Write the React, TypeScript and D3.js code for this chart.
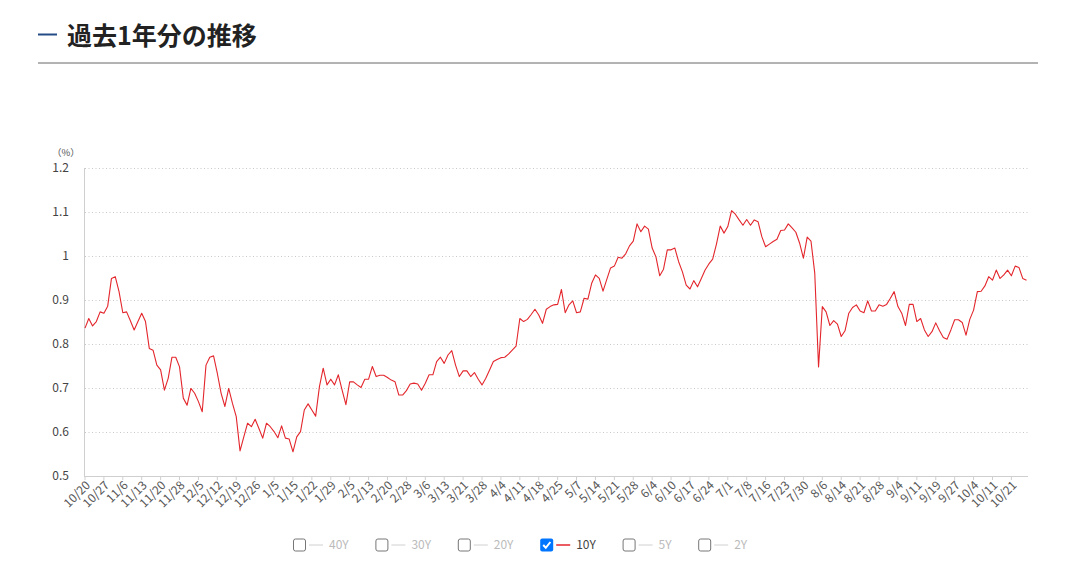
import React from "react";
import * as d3 from "d3";

// 10Y JGB yield (%), one value per trading day, 2023/10/20 → 2024/10/25
const values10Y: number[] = [
  0.836, 0.858, 0.841, 0.851, 0.873, 0.870, 0.886, 0.949, 0.953, 0.919,
  0.871, 0.873, 0.853, 0.832, 0.851, 0.870, 0.851, 0.790, 0.786, 0.752,
  0.741, 0.695, 0.722, 0.770, 0.770, 0.748, 0.677, 0.661, 0.699, 0.688,
  0.669, 0.646, 0.752, 0.770, 0.773, 0.733, 0.688, 0.658, 0.699, 0.665,
  0.635, 0.557, 0.589, 0.620, 0.612, 0.629, 0.608, 0.586, 0.620, 0.612,
  0.601, 0.587, 0.614, 0.586, 0.584, 0.555, 0.589, 0.601, 0.650, 0.664,
  0.650, 0.636, 0.703, 0.745, 0.707, 0.720, 0.707, 0.730, 0.695, 0.662,
  0.714, 0.714, 0.707, 0.701, 0.720, 0.720, 0.749, 0.726, 0.729, 0.729,
  0.724, 0.718, 0.714, 0.684, 0.684, 0.694, 0.709, 0.711, 0.709, 0.695,
  0.711, 0.730, 0.730, 0.760, 0.770, 0.756, 0.775, 0.785, 0.752, 0.726,
  0.739, 0.739, 0.726, 0.735, 0.720, 0.707, 0.722, 0.741, 0.760, 0.765,
  0.769, 0.770, 0.777, 0.786, 0.795, 0.858, 0.851, 0.856, 0.867, 0.879,
  0.866, 0.847, 0.879, 0.885, 0.889, 0.890, 0.924, 0.871, 0.889, 0.898,
  0.871, 0.873, 0.904, 0.902, 0.938, 0.957, 0.949, 0.920, 0.947, 0.973,
  0.977, 0.997, 0.995, 1.005, 1.023, 1.034, 1.073, 1.055, 1.068, 1.061,
  1.018, 0.998, 0.955, 0.970, 1.014, 1.014, 1.018, 0.987, 0.964, 0.934,
  0.925, 0.944, 0.930, 0.949, 0.968, 0.982, 0.993, 1.027, 1.068, 1.052,
  1.067, 1.103, 1.095, 1.082, 1.070, 1.083, 1.070, 1.082, 1.078, 1.044,
  1.021, 1.027, 1.033, 1.038, 1.058, 1.059, 1.073, 1.064, 1.054, 1.029,
  0.995, 1.043, 1.034, 0.961, 0.748, 0.885, 0.873, 0.842, 0.853, 0.845,
  0.817, 0.830, 0.870, 0.883, 0.889, 0.875, 0.871, 0.898, 0.875, 0.875,
  0.889, 0.886, 0.890, 0.904, 0.919, 0.885, 0.870, 0.842, 0.890, 0.890,
  0.851, 0.858, 0.832, 0.817, 0.828, 0.848, 0.830, 0.815, 0.811, 0.832,
  0.855, 0.855, 0.849, 0.820, 0.856, 0.877, 0.919, 0.920, 0.932, 0.953,
  0.945, 0.968, 0.949, 0.957, 0.968, 0.955, 0.977, 0.974, 0.949, 0.945,
];

// x-axis labels, one every 5 trading days starting at index 0
const tickLabels: string[] = [
  "10/20", "10/27", "11/6", "11/13", "11/20", "11/28", "12/5", "12/12", "12/19", "12/26",
  "1/5", "1/15", "1/22", "1/29", "2/5", "2/13", "2/20", "2/28", "3/6", "3/13",
  "3/21", "3/28", "4/4", "4/11", "4/18", "4/25", "5/7", "5/14", "5/21", "5/28",
  "6/4", "6/10", "6/17", "6/24", "7/1", "7/8", "7/16", "7/23", "7/30", "8/6",
  "8/14", "8/21", "8/28", "9/4", "9/11", "9/19", "9/27", "10/4", "10/11", "10/21",
];
const tickEvery = 5;

const yTicks: number[] = [0.5, 0.6, 0.7, 0.8, 0.9, 1.0, 1.1, 1.2];

const legendNames: string[] = ["40Y", "30Y", "20Y", "10Y", "5Y", "2Y"];
const legendChecked: boolean[] = [false, false, false, true, false, false];

const FONT = '"Noto Sans CJK JP", "Noto Sans", sans-serif';
const RED = "#e3262c";

export default function App() {
  const W = 1082;
  const H = 571;
  const left = 85;
  const right = 1026.5;
  const top = 168;
  const bottom = 476;

  const x = d3.scaleLinear().domain([0, values10Y.length - 1]).range([left, right]);
  const y = d3.scaleLinear().domain([0.5, 1.2]).range([bottom, top]);

  const line = d3
    .line<number>()
    .x((_, i) => x(i))
    .y((d) => y(d));

  const fmt = (v: number) => (Math.abs(v - 1) < 1e-9 ? "1" : d3.format(".1f")(v));

  // legend layout
  let cursor = 293;
  const legendItems = legendNames.map((name, i) => {
    const bx = cursor;
    const textW = name.length * 6.8;
    cursor = bx + 36 + textW + 26;
    return { name, bx, checked: legendChecked[i] };
  });
  const legendY = 545;

  return (
    <div style={{ position: "absolute", left: 0, top: 0 }}>
      <svg width={W} height={H} style={{ display: "block", fontFamily: FONT }}>
        <rect x={0} y={0} width={W} height={H} fill="#fff" />
        {/* Title */}
        <line x1={38} x2={57} y1={34.5} y2={34.5} stroke="#244c86" strokeWidth={2} />
        <text x={67} y={44.5} fontSize={25} fontWeight={700} fill="#222">
          過去1年分の推移
        </text>
        <line x1={38} x2={1038} y1={63} y2={63} stroke="#666" strokeWidth={1} />

        {/* Grid */}
        {yTicks.filter((t) => t > 0.5).map((t) => (
          <line
            key={t}
            x1={left}
            x2={1028}
            y1={Math.round(y(t)) + 0.5}
            y2={Math.round(y(t)) + 0.5}
            stroke="#c8c8c8"
            strokeDasharray="1 2.5"
          />
        ))}

        {/* Y axis */}
        <line x1={84.5} x2={84.5} y1={top} y2={bottom} stroke="#cfcfcf" />
        {yTicks.map((t) => (
          <text key={t} x={69} y={y(t)} dy="0.35em" textAnchor="end" fontSize={12} fill="#444">
            {fmt(t)}
          </text>
        ))}
        <text x={52} y={155.5} fontSize={9.5} fill="#555">
          （%）
        </text>

        {/* X axis */}
        <line x1={84} x2={1028} y1={bottom + 0.5} y2={bottom + 0.5} stroke="#cfcfcf" />
        {tickLabels.map((lab, k) => {
          const xi = x(k * tickEvery);
          return (
            <g key={lab + k}>
              <line x1={xi} x2={xi} y1={bottom} y2={bottom + 4} stroke="#cfcfcf" />
              <text
                transform={`translate(${xi + 3},${bottom + 7}) rotate(-45)`}
                textAnchor="end"
                dy="0.35em"
                fontSize={12}
                fill="#555"
              >
                {lab}
              </text>
            </g>
          );
        })}

        {/* Line */}
        <path d={line(values10Y) || ""} fill="none" stroke={RED} strokeWidth={1.1} strokeLinejoin="round" />

        {/* Legend */}
        {legendItems.map((it) => (
          <g key={it.name}>
            {it.checked ? (
              <g>
                <rect x={it.bx} y={legendY - 6.5} width={13} height={13} rx={2} fill="#0075ff" />
                <path
                  d={`M${it.bx + 3},${legendY} L${it.bx + 5.6},${legendY + 2.8} L${it.bx + 10.2},${legendY - 3}`}
                  fill="none"
                  stroke="#fff"
                  strokeWidth={2}
                />
              </g>
            ) : (
              <rect x={it.bx + 0.5} y={legendY - 6} width={12} height={12} rx={2} fill="#fff" stroke="#767676" />
            )}
            <line
              x1={it.bx + 16}
              x2={it.bx + 30}
              y1={legendY}
              y2={legendY}
              stroke={it.checked ? RED : "#d0d0d0"}
              strokeWidth={it.checked ? 1.5 : 1}
            />
            <text x={it.bx + 36} y={legendY} dy="0.35em" fontSize={12} fill={it.checked ? "#444" : "#bbb"}>
              {it.name}
            </text>
          </g>
        ))}
      </svg>
    </div>
  );
}
